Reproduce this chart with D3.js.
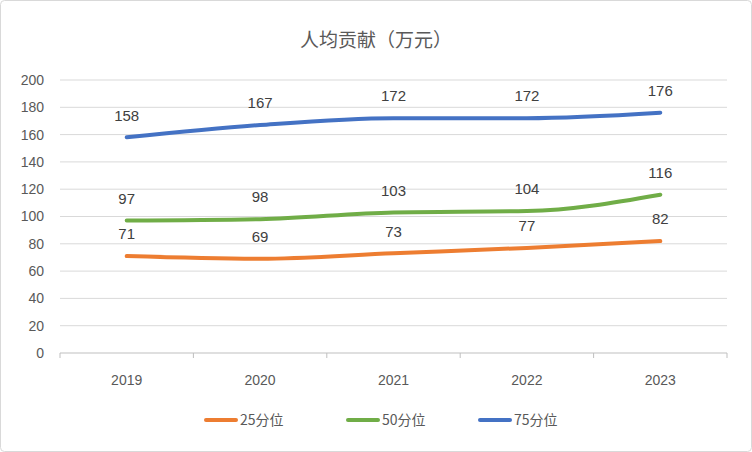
<!DOCTYPE html>
<html><head><meta charset="utf-8">
<script src="https://cdn.jsdelivr.net/npm/d3@7"></script>
<style>body{margin:0;background:#fff;font-family:"Noto Sans CJK SC","Liberation Sans",sans-serif;}</style>
</head><body><svg id="c" width="752" height="452"></svg>
<script>
const years = ["2019","2020","2021","2022","2023"];
const p25 = [71,69,73,77,82];
const p50 = [97,98,103,104,116];
const p75 = [158,167,172,172,176];
const seriesNames = ["25分位","50分位","75分位"];
const yTicks = [0,20,40,60,80,100,120,140,160,180,200];
const colors = ["#ED7D31","#70AD47","#4472C4"];
const series = [p25,p50,p75];

const svg = d3.select("#c");
svg.append("rect").attr("x",0.5).attr("y",0.5).attr("width",751).attr("height",451).attr("rx",4).attr("fill","#fff").attr("stroke","#d9d9d9");
const x = d3.scaleBand().domain(years).range([60,727]);
const y = d3.scaleLinear().domain([0,200]).range([353,80]);
const g = svg.append("g");
yTicks.forEach(t=>{
  if(t>0) g.append("line").attr("x1",60).attr("x2",727).attr("y1",y(t)).attr("y2",y(t)).attr("stroke","#d9d9d9");
  g.append("text").attr("x",44).attr("y",y(t)).attr("dy","0.35em").attr("text-anchor","end")
   .attr("font-size",14).attr("fill","#595959").attr("font-family","Liberation Sans, sans-serif").text(t);
});
g.append("line").attr("x1",60).attr("x2",727).attr("y1",353).attr("y2",353).attr("stroke","#bfbfbf");
years.forEach((yr,i)=>{
  g.append("line").attr("x1",x(yr)).attr("x2",x(yr)).attr("y1",353).attr("y2",358).attr("stroke","#bfbfbf");
  g.append("text").attr("x",x(yr)+x.bandwidth()/2).attr("y",385).attr("text-anchor","middle")
   .attr("font-size",14).attr("fill","#595959").attr("font-family","Liberation Sans, sans-serif").text(yr);
});
g.append("line").attr("x1",727).attr("x2",727).attr("y1",353).attr("y2",358).attr("stroke","#bfbfbf");
const line = d3.line().x((d,i)=>x(years[i])+x.bandwidth()/2).y(d=>y(d)).curve(d3.curveMonotoneX);
series.forEach((s,k)=>{
  g.append("path").attr("d",line(s)).attr("fill","none").attr("stroke",colors[k]).attr("stroke-width",4).attr("stroke-linecap","round");
  s.forEach((v,i)=>{
    g.append("text").attr("x",x(years[i])+x.bandwidth()/2).attr("y",y(v)-22).attr("dy","0.35em").attr("text-anchor","middle")
     .attr("font-size",15).attr("fill","#404040").attr("font-family","Liberation Sans, sans-serif").text(v);
  });
});
svg.append("text").attr("x",376).attr("y",40).attr("dy","0.35em").attr("text-anchor","middle").attr("font-size",19).attr("fill","#595959").text("人均贡献（万元）");
const lx=[206,348,480];
seriesNames.forEach((n,k)=>{
  svg.append("line").attr("x1",lx[k]).attr("x2",lx[k]+30).attr("y1",420).attr("y2",420).attr("stroke",colors[k]).attr("stroke-width",4).attr("stroke-linecap","round");
  svg.append("text").attr("x",lx[k]+34).attr("y",420).attr("dy","0.35em").attr("font-size",14).attr("fill","#595959").text(n);
});
</script></body></html>
